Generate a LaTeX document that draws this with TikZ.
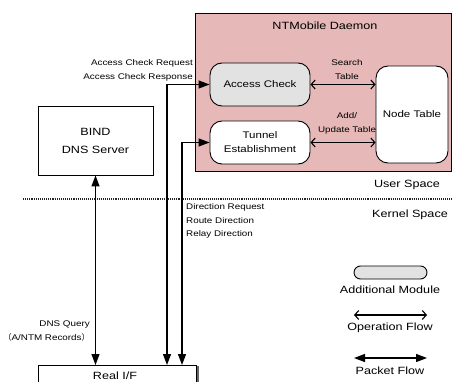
\documentclass[tikz,border=0pt]{standalone}
\usepackage{fontspec}
\setmainfont{Liberation Sans}[FakeStretch=1.2]
\newfontfamily\cjk{Noto Sans CJK JP}
\usetikzlibrary{arrows.meta}
\definecolor{daemonfill}{RGB}{230,184,184}
\definecolor{modfill}{RGB}{226,226,226}
\tikzset{
  box/.style={draw=black, line width=0.9pt, inner sep=0pt, align=center, font=\fontsize{9.6}{14}\selectfont},
  roundbox/.style={box, rounded corners=12pt},
  lbl/.style={inner sep=0pt, font=\fontsize{10.5}{14}\selectfont},
  small/.style={inner sep=0pt, font=\fontsize{8.2}{13.5}\selectfont},
  pkt/.style={line width=1.3pt, {Triangle[length=11pt,width=8pt]}-{Triangle[length=11pt,width=8pt]}},
  opflow/.style={line width=1.1pt, {Straight Barb[length=4pt,width=9pt]}-{Straight Barb[length=4pt,width=9pt]}},
}
\begin{document}
\begin{tikzpicture}[x=1pt,y=-1pt]
\useasboundingbox (0,0) rectangle (452,382);

% daemon container
\node (daemon) [draw=black, line width=0.9pt, fill=daemonfill, minimum width=256pt, minimum height=158pt, anchor=north west, inner sep=0pt] at (195,13) {};
\node (dtitle) [lbl] at (325,26) {NTMobile Daemon};

% modules inside the daemon
\node (acc) [roundbox, fill=modfill, minimum width=100pt, minimum height=43pt] at (260,84.5) {Access Check};
\node (tun) [roundbox, fill=white, minimum width=100pt, minimum height=43pt] at (260,142.5) {Tunnel\\Establishment};
\node (ntab) [roundbox, fill=white, minimum width=72pt, minimum height=97pt] at (412,114.5) {Node Table};

% table operations
\draw[opflow] (acc.east) -- (acc.east -| ntab.west);
\draw[opflow] (tun.east) -- (tun.east -| ntab.west);
\node (lsearch) [small, align=center] at (347,69.5) {Search\\Table};
\node (lupdate) [small, align=center] at (347,123.5) {Add/\\Update Table};

% DNS server and interface
\node (bind) [box, font=\fontsize{10.5}{18}\selectfont, minimum width=115pt, minimum height=69pt] at (95.5,140.5) {BIND\\DNS Server};
\node (realif) [box, minimum width=158pt, minimum height=30pt, anchor=north west] at (38,365) {};
\draw[line width=1.6pt, black!60] ([xshift=0.8pt,yshift=-1pt]realif.north east) -- ([xshift=0.8pt]realif.south east);
\node (realiftxt) [lbl] at (115,376) {Real I/F};

% user / kernel boundary
\coordinate (sepL) at (23,199);
\coordinate (sepR) at (452,199);
\draw[line width=1.1pt, densely dotted, black!85] (sepL) -- (sepR);
\node (uspace) [lbl] at (407,185) {User Space};
\node (kspace) [lbl] at (410,215) {Kernel Space};

% packet paths
\coordinate (xacc) at (167,0);
\coordinate (xtun) at (182,0);
\draw[pkt] (bind.south) -- (bind.south |- realif.north);
\draw[pkt] (acc.west) -| (xacc |- realif.north);
\draw[pkt] (tun.west) -| (xtun |- realif.north);

% path labels
\node (laccess) [small, align=right, anchor=east] at (193,70.5) {Access Check Request\\Access Check Response};
\node (ldir) [small, align=left, anchor=west] at (186,221) {Direction Request\\Route Direction\\Relay Direction};
\node (ldns) [small, align=right, anchor=east] at (90,331) {DNS Query\\{\cjk （}A/NTM Records{\cjk ）}};

% legend
\node (legmod) [draw=black, line width=0.9pt, fill=modfill, rounded corners=6.5pt, minimum width=73pt, minimum height=13pt, inner sep=0pt] at (390.5,272.5) {};
\node (legmodtxt) [lbl] at (390,290) {Additional Module};
\coordinate (opL) at (354,315);
\coordinate (opR) at (427,315);
\draw[opflow] (opL) -- (opR);
\node (legop) [lbl] at (390,328) {Operation Flow};
\coordinate (pkL) at (354,358);
\coordinate (pkR) at (427,358);
\draw[pkt] (pkL) -- (pkR);
\node (legpk) [lbl] at (390,371) {Packet Flow};
\end{tikzpicture}
\end{document}
